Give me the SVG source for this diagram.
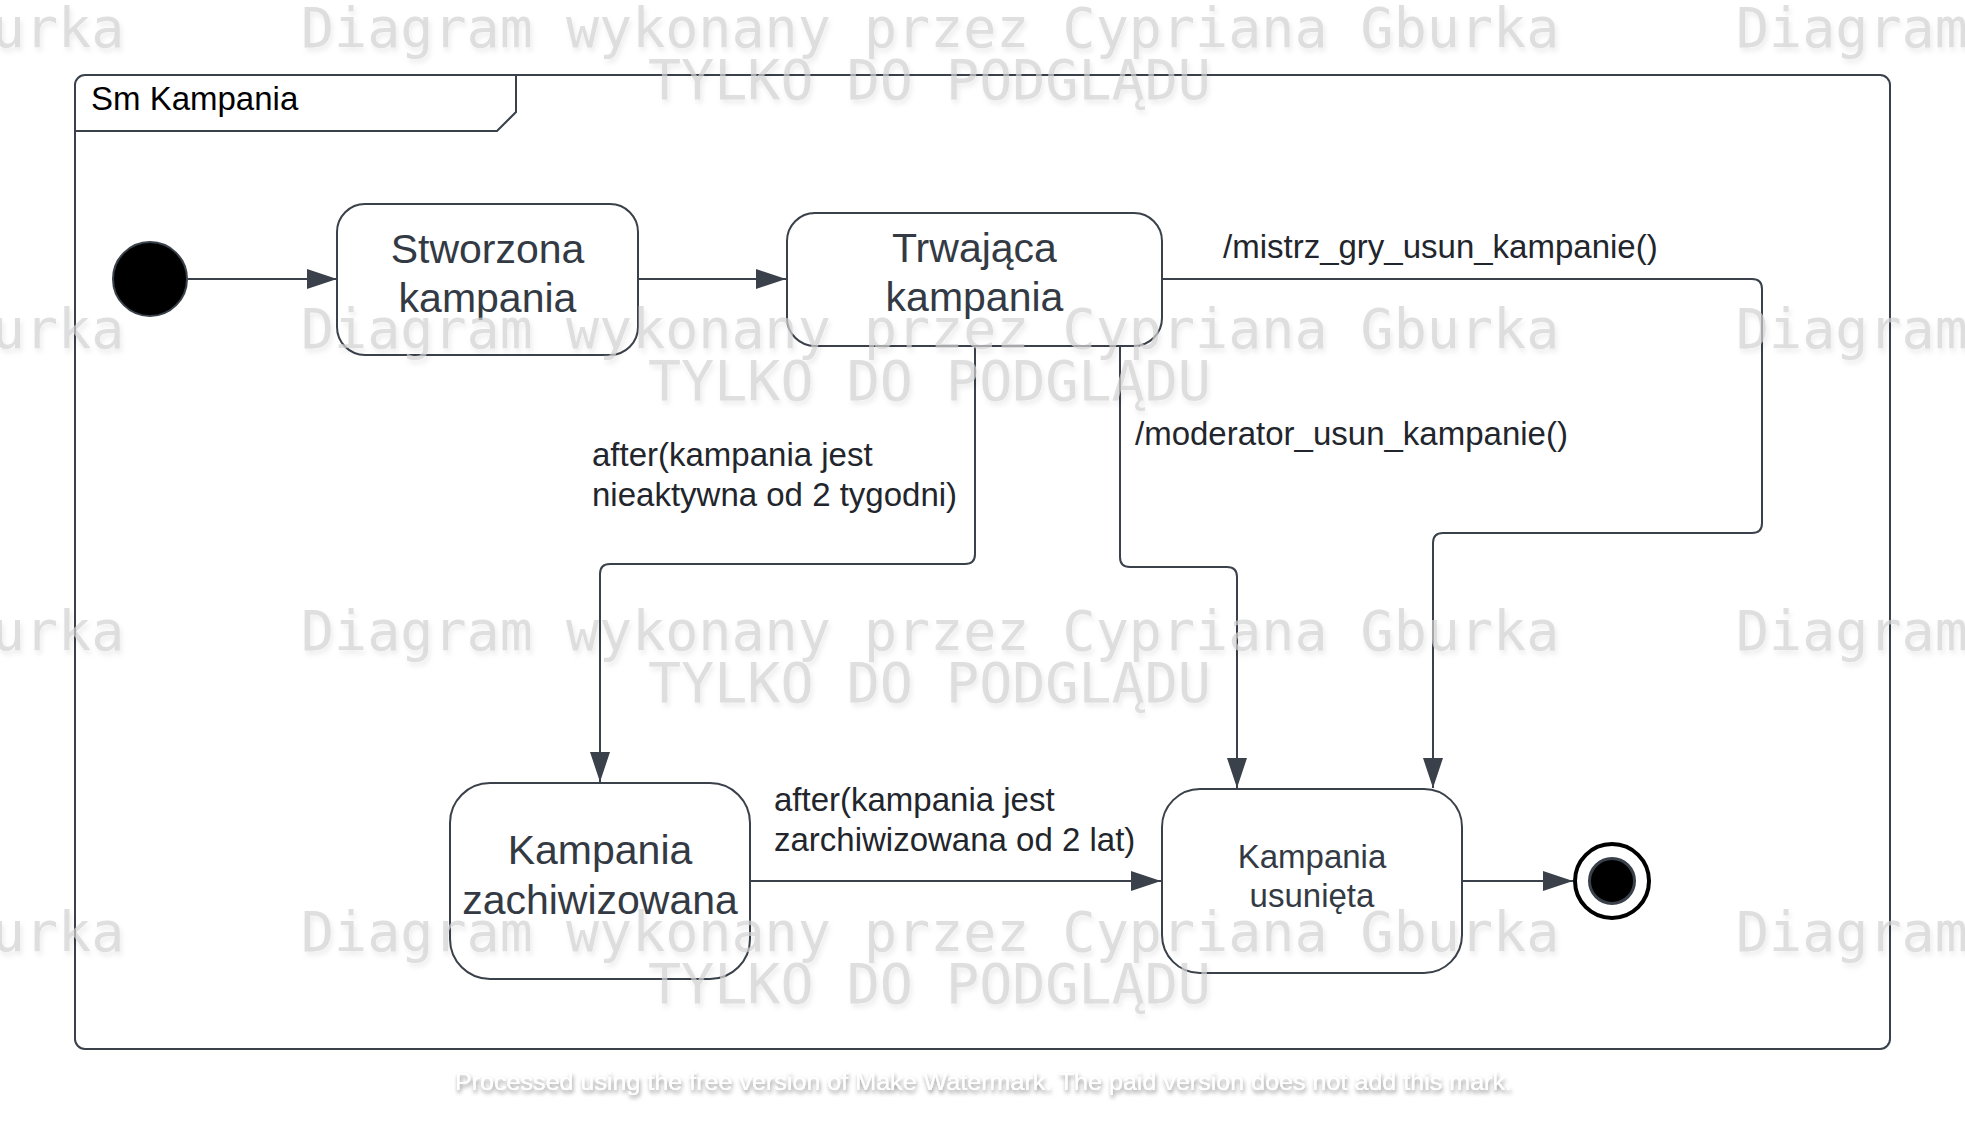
<svg xmlns="http://www.w3.org/2000/svg" width="1965" height="1125" viewBox="0 0 1965 1125">
  <style>
    .ln { fill: none; stroke: #3a414a; stroke-width: 2; }
    .box { fill: #ffffff; stroke: #3a414a; stroke-width: 2; }
    .nt { font-family: "Liberation Sans", Arial, sans-serif; font-size: 41px; fill: #333a44; text-anchor: middle; }
    .nts { font-family: "Liberation Sans", Arial, sans-serif; font-size: 33px; fill: #333a44; text-anchor: middle; }
    .lbl { font-family: "Liberation Sans", Arial, sans-serif; font-size: 33px; fill: #22262c; }
    .wm { font-family: "DejaVu Sans Mono", "Liberation Mono", monospace; font-size: 55px; fill: #d2d2d2; fill-opacity: 0.7; filter: url(#sh); }
    .pm { font-family: "Liberation Sans", Arial, sans-serif; font-size: 23px; fill: #ffffff; filter: url(#sh2); }
  </style>
  <defs>
    <marker id="ah" viewBox="0 0 30 20" refX="30" refY="10" markerWidth="30" markerHeight="20" markerUnits="userSpaceOnUse" orient="auto">
      <path d="M0,0 L30,10 L0,20 z" fill="#3a414a"/>
    </marker>
    <filter id="sh" x="-5%" y="-30%" width="110%" height="160%">
      <feDropShadow dx="2" dy="4" stdDeviation="2.5" flood-color="#000" flood-opacity="0.1"/>
    </filter>
    <filter id="sh2" x="-5%" y="-50%" width="110%" height="200%">
      <feDropShadow dx="1" dy="3" stdDeviation="2" flood-color="#000" flood-opacity="0.45"/>
    </filter>
  </defs>
  <rect x="0" y="0" width="1965" height="1125" fill="#ffffff"/>

  <g id="frame">
    <rect x="75" y="75" width="1815" height="974" rx="10" ry="10" fill="#ffffff" stroke="#3a414a" stroke-width="2"/>
    <path d="M75,131 H497 L516,112 V75" class="ln"/>
    <text x="91" y="110" font-family="Liberation Sans, Arial, sans-serif" font-size="33" fill="#000000">Sm Kampania</text>
  </g>

  <g id="connectors">
    <path d="M188,279 H337" class="ln" marker-end="url(#ah)"/>
    <path d="M638,279 H786" class="ln" marker-end="url(#ah)"/>
    <path d="M975,346 V554 Q975,564 965,564 H610 Q600,564 600,574 V782" class="ln" marker-end="url(#ah)"/>
    <path d="M1120,346 V557 Q1120,567 1130,567 H1227 Q1237,567 1237,577 V788" class="ln" marker-end="url(#ah)"/>
    <path d="M1162,279 H1752 Q1762,279 1762,289 V523 Q1762,533 1752,533 H1443 Q1433,533 1433,543 V788" class="ln" marker-end="url(#ah)"/>
    <path d="M750,881 H1161" class="ln" marker-end="url(#ah)"/>
    <path d="M1463,881 H1573" class="ln" marker-end="url(#ah)"/>
    <text class="lbl" x="1223" y="258">/mistrz_gry_usun_kampanie()</text>
    <text class="lbl" x="1135" y="445">/moderator_usun_kampanie()</text>
    <text class="lbl" x="592" y="466">after(kampania jest</text>
    <text class="lbl" x="592" y="506">nieaktywna od 2 tygodni)</text>
    <text class="lbl" x="774" y="811">after(kampania jest</text>
    <text class="lbl" x="774" y="851">zarchiwizowana od 2 lat)</text>
  </g>

  <g id="initial">
    <circle cx="150" cy="279" r="37" fill="#000000" stroke="#3a414a" stroke-width="2"/>
  </g>

  <g id="stworzona">
    <rect class="box" x="337" y="204" width="301" height="151" rx="28" ry="28"/>
    <text class="nt" x="487.5" y="263">Stworzona</text>
    <text class="nt" x="487.5" y="312">kampania</text>
  </g>

  <g id="trwajaca">
    <rect class="box" x="787" y="213" width="375" height="133" rx="28" ry="28"/>
    <text class="nt" x="974.5" y="262">Trwająca</text>
    <text class="nt" x="974.5" y="311">kampania</text>
  </g>

  <g id="zachiwizowana">
    <rect class="box" x="450" y="783" width="300" height="196" rx="40" ry="40"/>
    <text class="nt" x="600" y="864">Kampania</text>
    <text class="nt" x="600" y="914">zachiwizowana</text>
  </g>

  <g id="usunieta">
    <rect class="box" x="1162" y="789" width="300" height="184" rx="38" ry="38"/>
    <text class="nts" x="1312" y="868">Kampania</text>
    <text class="nts" x="1312" y="907">usunięta</text>
  </g>

  <g id="final">
    <circle cx="1612" cy="881" r="37" fill="#ffffff" stroke="#000000" stroke-width="4"/>
    <circle cx="1612" cy="881" r="22.5" fill="#000000" stroke="#3a414a" stroke-width="3"/>
  </g>

  <g id="watermark">
    <text class="wm" x="-1134" y="47">Diagram wykonany przez Cypriana Gburka</text>
    <text class="wm" x="301" y="47">Diagram wykonany przez Cypriana Gburka</text>
    <text class="wm" x="1736" y="47">Diagram wykonany przez Cypriana Gburka</text>
    <text class="wm" x="648" y="99">TYLKO DO PODGLĄDU</text>
    <text class="wm" x="-1134" y="348">Diagram wykonany przez Cypriana Gburka</text>
    <text class="wm" x="301" y="348">Diagram wykonany przez Cypriana Gburka</text>
    <text class="wm" x="1736" y="348">Diagram wykonany przez Cypriana Gburka</text>
    <text class="wm" x="648" y="400">TYLKO DO PODGLĄDU</text>
    <text class="wm" x="-1134" y="650">Diagram wykonany przez Cypriana Gburka</text>
    <text class="wm" x="301" y="650">Diagram wykonany przez Cypriana Gburka</text>
    <text class="wm" x="1736" y="650">Diagram wykonany przez Cypriana Gburka</text>
    <text class="wm" x="648" y="702">TYLKO DO PODGLĄDU</text>
    <text class="wm" x="-1134" y="951">Diagram wykonany przez Cypriana Gburka</text>
    <text class="wm" x="301" y="951">Diagram wykonany przez Cypriana Gburka</text>
    <text class="wm" x="1736" y="951">Diagram wykonany przez Cypriana Gburka</text>
    <text class="wm" x="648" y="1003">TYLKO DO PODGLĄDU</text>
    <text class="pm" x="455" y="1090" textLength="1057" lengthAdjust="spacingAndGlyphs">Processed using the free version of Make Watermark. The paid version does not add this mark.</text>
  </g>
</svg>
